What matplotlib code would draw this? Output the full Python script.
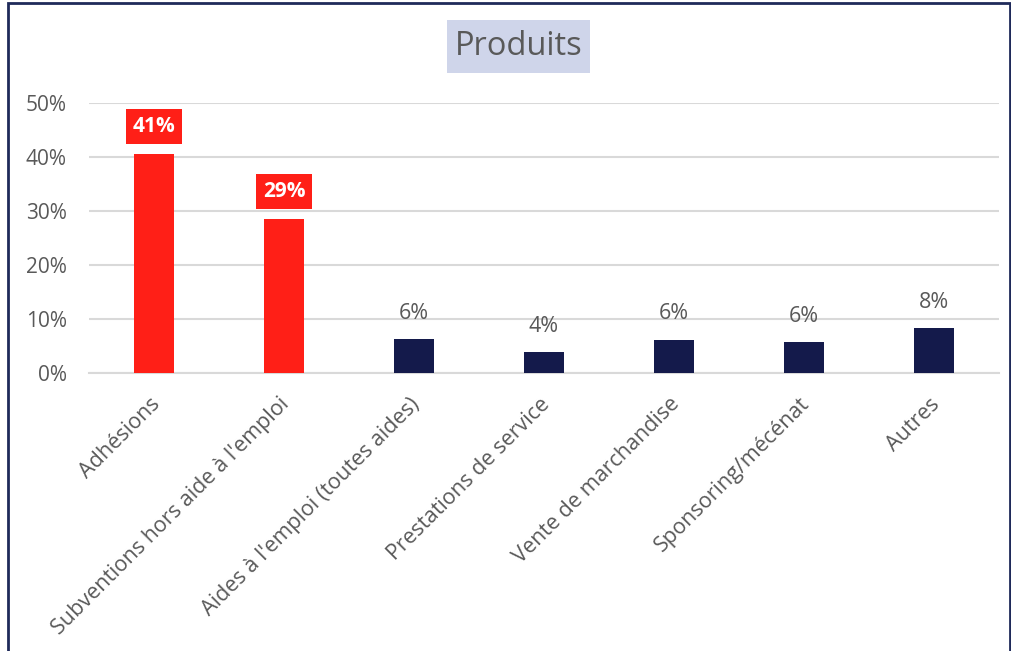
import matplotlib
matplotlib.use("Agg")
import matplotlib.pyplot as plt
from matplotlib.patches import Rectangle
from matplotlib.ticker import PercentFormatter

# Répartition des produits (en % du total)
categories = [
    "Adhésions",
    "Subventions hors aide à l'emploi",
    "Aides à l'emploi (toutes aides)",
    "Prestations de service",
    "Vente de marchandise",
    "Sponsoring/mécénat",
    "Autres",
]
values = [40.6, 28.6, 6.3, 3.9, 6.2, 5.7, 8.3]
highlight = [True, True, False, False, False, False, False]
yticks = [0, 10, 20, 30, 40, 50]

RED = "#FF1F17"
NAVY = "#141A4B"
GREY = "#595959"
GRID = "#D9D9D9"

plt.rcParams.update({"font.family": ["Open Sans", "DejaVu Sans"]})

W, H = 1012, 651
fig = plt.figure(figsize=(W / 100, H / 100), dpi=100)
ax = fig.add_axes([89 / W, 1 - 373 / H, (999 - 89) / W, (373 - 103) / H])

x = list(range(len(categories)))
colors = [RED if h else NAVY for h in highlight]
ax.bar(x, values, width=0.315, color=colors, zorder=3)

ax.set_xlim(-0.5, len(categories) - 0.5)
ax.set_ylim(0, 50)
ax.set_yticks(yticks)
ax.yaxis.set_major_formatter(PercentFormatter(decimals=0))
ax.grid(True, axis="y", color=GRID, linewidth=1.5, zorder=0)
for side in ["top", "right", "left"]:
    ax.spines[side].set_visible(False)
ax.spines["bottom"].set_color(GRID)
ax.spines["bottom"].set_linewidth(1.5)
ax.tick_params(axis="y", length=0, labelsize=15, labelcolor=GREY, pad=16)
ax.tick_params(axis="x", length=0, pad=0)

ax.set_xticks(x)
ax.set_xticklabels([])
for i, lab in enumerate(categories):
    ax.text(i + 0.02, -5.2, lab, rotation=45, rotation_mode="anchor",
            ha="right", va="center", fontsize=15.5, color=GREY,
            transform=ax.transData, clip_on=False)

# étiquettes de valeur
for i, (v, h) in enumerate(zip(values, highlight)):
    txt = f"{v:.0f}%"
    if h:
        ax.text(i, v + 5.0, txt, ha="center", va="center", fontsize=15,
                fontweight="bold", color="white", zorder=4,
                bbox=dict(boxstyle="square,pad=0.33", facecolor=RED, edgecolor="none"))
    else:
        ax.text(i, v + 4.8, txt, ha="center", va="center", fontsize=15.5,
                color=GREY, zorder=4)

# titre sur fond bleu clair
fig.patches.append(Rectangle((447 / W, 1 - 73 / H), 143 / W, 53 / H,
                             transform=fig.transFigure, facecolor="#CFD5EA",
                             edgecolor="none", zorder=0))
fig.text(518.5 / W, 1 - 46.5 / H, "Produits", ha="center", va="center",
         fontsize=23.5, color=GREY)

# cadre du graphique
fig.patches.append(Rectangle((8 / W, -0.05), (1010 - 8) / W, 1.05 - 3 / H,
                             transform=fig.transFigure, facecolor="none",
                             edgecolor="#1F2A5A", linewidth=2, zorder=5))

fig.savefig("out.png", dpi=100)
